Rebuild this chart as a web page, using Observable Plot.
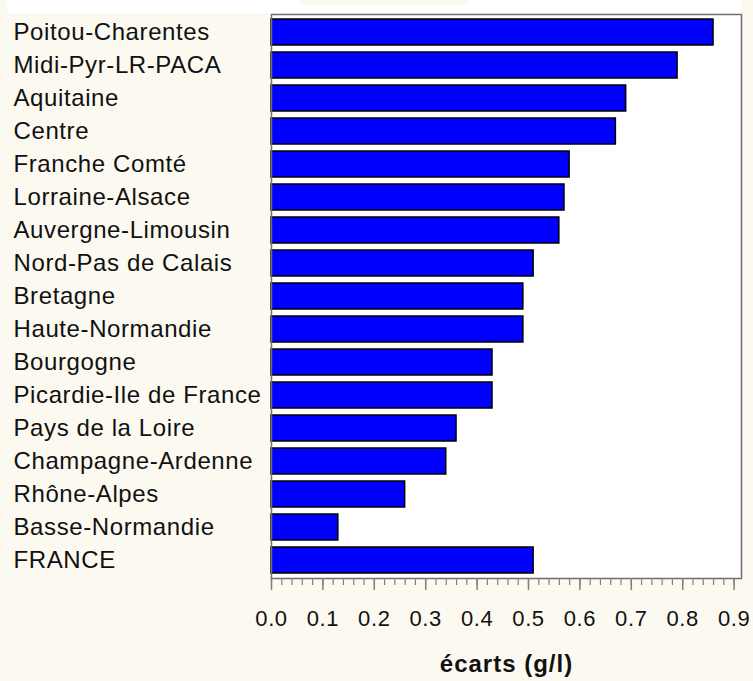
<!DOCTYPE html>
<html>
<head>
<meta charset="utf-8">
<script src="https://cdn.jsdelivr.net/npm/d3@7"></script>
<script src="https://cdn.jsdelivr.net/npm/@observablehq/plot@0.6"></script>
<style>
  html, body { margin: 0; padding: 0; background: #fcf9f1; }
  #wrap { position: relative; width: 753px; height: 681px; }
  #topstrip { position: absolute; left: 7px; top: 0; width: 734px; height: 13px; background: #ffffff; }
  #titlebox { position: absolute; left: 300px; top: 0; width: 168px; height: 5px; background: #fcf9f1; }
  #chart { position: absolute; left: 0; top: 0; }
  svg text { letter-spacing: 0.6px; }
  svg text.xlab { letter-spacing: 1px; }
</style>
</head>
<body>
<div id="wrap">
  <div id="chart"></div>
  <div id="topstrip"></div>
  <div id="titlebox"></div>
</div>
<script>
const regions = [
  "Poitou-Charentes", "Midi-Pyr-LR-PACA", "Aquitaine", "Centre", "Franche Comté",
  "Lorraine-Alsace", "Auvergne-Limousin", "Nord-Pas de Calais", "Bretagne",
  "Haute-Normandie", "Bourgogne", "Picardie-Ile de France", "Pays de la Loire",
  "Champagne-Ardenne", "Rhône-Alpes", "Basse-Normandie", "FRANCE"
];
const ecarts = [0.86, 0.79, 0.69, 0.67, 0.58, 0.57, 0.56, 0.51, 0.49, 0.49, 0.43, 0.43, 0.36, 0.34, 0.26, 0.13, 0.51];
const majorTicks = [0, 0.1, 0.2, 0.3, 0.4, 0.5, 0.6, 0.7, 0.8, 0.9];
const minorTicks = d3.range(0, 46).map(i => i * 0.02);
const xLabel = "écarts (g/l)";

const data = regions.map((r, i) => ({region: r, value: ecarts[i]}));

const chart = Plot.plot({
  width: 753,
  height: 681,
  marginLeft: 271,
  marginRight: 12,
  marginTop: 14,
  marginBottom: 103,
  style: {background: "transparent", fontFamily: "'Liberation Sans', Arial, sans-serif", color: "#111"},
  x: {domain: [0, 0.9144]},
  y: {domain: regions, paddingInner: 0.2, paddingOuter: 0.1},
  marks: [
    Plot.frame({fill: "white", stroke: null}),
    Plot.barX(data, {x: "value", y: "region", fill: "#0000ff", stroke: "#000", strokeWidth: 1.5}),
    Plot.frame({stroke: "#6f6f6f", strokeWidth: 1.5}),
    Plot.axisX({ticks: minorTicks, tickSize: 7, stroke: "#808080", strokeWidth: 1.2, tickFormat: () => "", label: null}),
    Plot.axisX({ticks: majorTicks, tickSize: 12, stroke: "#808080", strokeWidth: 1.5, tickPadding: 20, fontSize: 22, tickFormat: d3.format(".1f"), label: null}),
    Plot.axisY({anchor: "left", tickSize: 0, tickPadding: 258, textAnchor: "start", fontSize: 24, label: null}),
    Plot.text([xLabel], {text: d => d, frameAnchor: "bottom", lineAnchor: "middle", dy: 86, fontSize: 24, fontWeight: "bold", className: "xlab"})
  ]
});
chart.querySelectorAll("g[aria-label='text'] text").forEach(t => t.classList.add("xlab"));
document.getElementById("chart").appendChild(chart);
</script>
</body>
</html>
